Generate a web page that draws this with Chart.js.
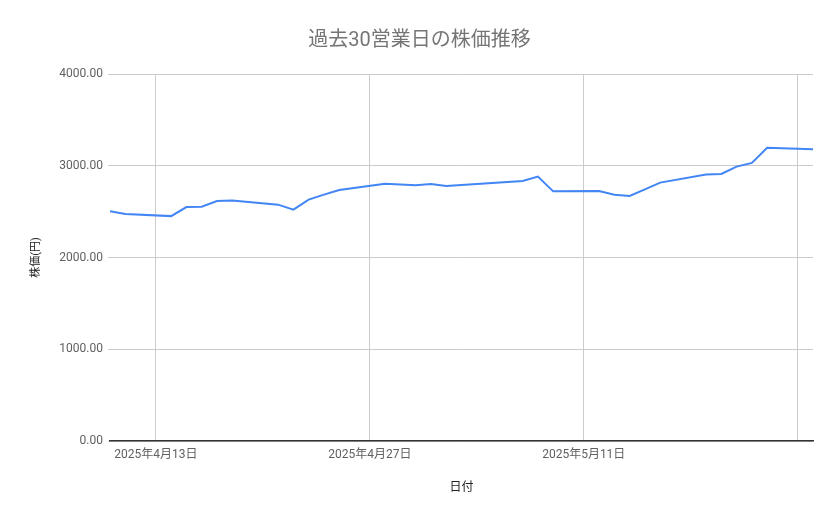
<!DOCTYPE html>
<html>
<head>
<meta charset="utf-8">
<script src="https://cdn.jsdelivr.net/npm/chart.js@4/dist/chart.umd.min.js"></script>
<style>
  html, body { margin: 0; padding: 0; background: #fff; }
  #wrap { width: 839px; height: 519px; }
</style>
</head>
<body>
<div id="wrap"><canvas id="c" width="839" height="519"></canvas></div>
<script>
// ---- Data ----
const dates = [
  '2025-04-10','2025-04-11','2025-04-14','2025-04-15','2025-04-16','2025-04-17','2025-04-18',
  '2025-04-21','2025-04-22','2025-04-23','2025-04-24','2025-04-25','2025-04-28','2025-04-30',
  '2025-05-01','2025-05-02','2025-05-07','2025-05-08','2025-05-09','2025-05-12','2025-05-13',
  '2025-05-14','2025-05-15','2025-05-16','2025-05-19','2025-05-20','2025-05-21','2025-05-22',
  '2025-05-23','2025-05-26'
];
const prices = [
  2505, 2473, 2451, 2550, 2554, 2615, 2620,
  2576, 2521, 2631, 2685, 2736, 2805, 2787,
  2801, 2779, 2834, 2882, 2721, 2725, 2685,
  2670, 2743, 2816, 2904, 2910, 2991, 3031,
  3195, 3180
];
const tickDates = ['2025-04-13', '2025-04-27', '2025-05-11', '2025-05-25'];
const labeledTickCount = 3; // the last tick (5/25) carries no label in the reference
const yTicks = [0, 1000, 2000, 3000, 4000];
const chartTitle = '過去30営業日の株価推移';
const xTitle = '日付';
const yTitle = '株価(円)';
const seriesName = '株価';

// ---- Helpers ----
const DAY = 86400000;
function toDay(s) {
  const [y, m, d] = s.split('-').map(Number);
  return Date.UTC(y, m - 1, d) / DAY;
}
function fmtDay(v) {
  const dt = new Date(v * DAY);
  return dt.getUTCFullYear() + '年' + (dt.getUTCMonth() + 1) + '月' + dt.getUTCDate() + '日';
}
const points = dates.map((d, i) => ({ x: toDay(d), y: prices[i] }));
const tickValues = tickDates.map(toDay);

const FONT = "Roboto, 'Noto Sans CJK JP', sans-serif";

new Chart(document.getElementById('c'), {
  type: 'line',
  data: {
    datasets: [{
      label: seriesName,
      data: points,
      borderColor: '#4285F4',
      backgroundColor: '#4285F4',
      borderWidth: 2,
      pointRadius: 0,
      pointHoverRadius: 0,
      tension: 0,
      fill: false
    }]
  },
  options: {
    responsive: false,
    animation: false,
    devicePixelRatio: 1,
    layout: { padding: { left: 0, right: 0, top: 0, bottom: 0 } },
    plugins: {
      legend: { display: false },
      tooltip: { enabled: false },
      title: {
        display: true,
        text: chartTitle,
        color: '#757575',
        font: { family: FONT, size: 20, weight: 'normal' },
        padding: { top: 29, bottom: 21 }
      }
    },
    scales: {
      x: {
        type: 'linear',
        min: toDay(dates[0]),
        max: toDay(dates[dates.length - 1]),
        afterBuildTicks: (scale) => { scale.ticks = tickValues.map(v => ({ value: v })); },
        afterFit: (scale) => { scale.height = 78; },
        ticks: {
          autoSkip: false,
          maxRotation: 0,
          minRotation: 0,
          padding: 7,
          color: '#616161',
          font: { family: FONT, size: 12 },
          callback: function (value, index) {
            return index < labeledTickCount ? fmtDay(value) : '';
          }
        },
        grid: {
          color: '#cccccc',
          lineWidth: 1,
          drawTicks: false
        },
        border: { display: true, color: '#333333', width: 1.5 },
        title: {
          display: true,
          text: xTitle,
          color: '#222222',
          font: { family: FONT, size: 12 },
          padding: { top: 4, bottom: 24 }
        }
      },
      y: {
        type: 'linear',
        position: 'left',
        min: yTicks[0],
        max: yTicks[yTicks.length - 1],
        afterBuildTicks: (scale) => { scale.ticks = yTicks.map(v => ({ value: v })); },
        afterFit: (scale) => { scale.width = 110; },
        ticks: {
          padding: 5,
          color: '#616161',
          font: { family: FONT, size: 12 },
          callback: (v) => Number(v).toFixed(2)
        },
        grid: {
          color: '#cccccc',
          lineWidth: 1,
          tickLength: 2
        },
        border: { display: false },
        title: {
          display: true,
          text: yTitle,
          color: '#222222',
          font: { family: FONT, size: 11 },
          padding: { top: 30, bottom: 4 }
        }
      },
      // empty right-hand spacer so the plot ends where the reference's does
      spacer: {
        type: 'linear',
        position: 'right',
        display: true,
        afterFit: (scale) => { scale.width = 26; },
        ticks: { display: false },
        grid: { display: false, drawOnChartArea: false },
        border: { display: false },
        title: { display: false }
      }
    }
  }
});
</script>
</body>
</html>
